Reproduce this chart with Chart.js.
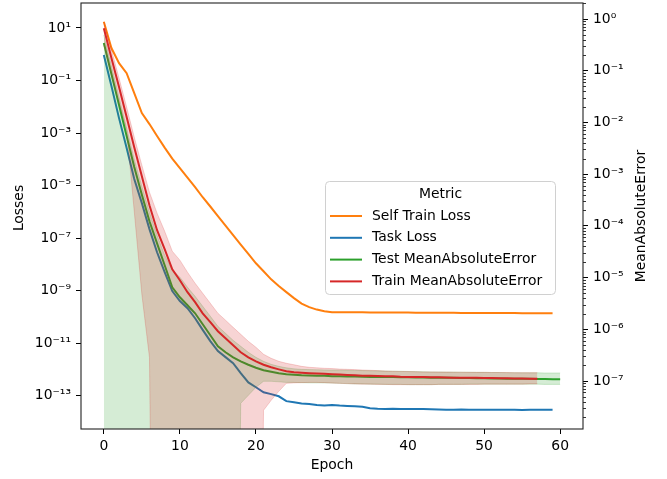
<!DOCTYPE html>
<html>
<head>
<meta charset="utf-8">
<script src="https://cdn.jsdelivr.net/npm/chart.js@4.4.1/dist/chart.umd.min.js"></script>
<style>
  body { margin: 0; background: #fff; }
</style>
</head>
<body>
<canvas id="chart" width="667" height="479" style="width:667px;height:479px"></canvas>
<script>
// series values, one entry per epoch (index = epoch)
var selfTrainLoss = [17.4, 1.73, 0.46, 0.19, 0.033, 5.8e-3, 2.2e-3, 7.7e-4, 2.8e-4, 1.07e-4,
    4.6e-5, 2.0e-5, 8.8e-6, 3.6e-6, 1.6e-6, 6.9e-7, 3.0e-7, 1.3e-7, 5.6e-8, 2.5e-8,
    1.1e-8, 5.5e-9, 2.7e-9, 1.5e-9, 8.8e-10, 5.2e-10, 3.2e-10, 2.35e-10, 1.9e-10, 1.65e-10,
    1.52e-10, 1.51e-10, 1.50e-10, 1.50e-10, 1.49e-10, 1.48e-10, 1.48e-10, 1.47e-10, 1.47e-10, 1.46e-10,
    1.46e-10, 1.45e-10, 1.45e-10, 1.44e-10, 1.44e-10, 1.43e-10, 1.43e-10, 1.42e-10, 1.42e-10, 1.41e-10,
    1.41e-10, 1.41e-10, 1.40e-10, 1.40e-10, 1.40e-10, 1.39e-10, 1.39e-10, 1.39e-10, 1.38e-10, 1.38e-10];

var taskLoss = [0.935, 0.0617, 3.7e-3, 2.7e-4, 1.78e-5, 2.15e-6, 2.2e-7, 2.9e-8, 5.1e-9, 9.6e-10,
    4.0e-10, 2.14e-10, 8.9e-11, 3.2e-11, 1.2e-11, 5.0e-12, 2.95e-12, 1.74e-12, 7.2e-13, 3.2e-13,
    2.1e-13, 1.35e-13, 1.15e-13, 9.5e-14, 6.2e-14, 5.6e-14, 5.1e-14, 4.8e-14, 4.4e-14, 4.2e-14,
    4.4e-14, 4.2e-14, 4.1e-14, 4.0e-14, 3.8e-14, 3.3e-14, 3.2e-14, 3.15e-14, 3.2e-14, 3.15e-14,
    3.15e-14, 3.1e-14, 3.1e-14, 3.05e-14, 3.0e-14, 2.95e-14, 2.9e-14, 3.0e-14, 2.9e-14, 2.95e-14,
    2.9e-14, 2.95e-14, 2.9e-14, 2.9e-14, 2.9e-14, 2.85e-14, 2.9e-14, 2.9e-14, 2.9e-14, 2.9e-14];

var testMAE = [0.344, 0.0863, 0.0217, 5.45e-3, 1.37e-3, 4.0e-4, 1.23e-4, 4.6e-5, 1.73e-5, 6.5e-6,
    4.16e-6, 2.92e-6, 2.04e-6, 1.25e-6, 7.66e-7, 4.69e-7, 3.59e-7, 2.87e-7, 2.40e-7, 2.06e-7,
    1.80e-7, 1.61e-7, 1.51e-7, 1.41e-7, 1.35e-7, 1.32e-7, 1.29e-7, 1.28e-7, 1.27e-7, 1.26e-7,
    1.24e-7, 1.23e-7, 1.22e-7, 1.22e-7, 1.21e-7, 1.20e-7, 1.20e-7, 1.19e-7, 1.19e-7, 1.18e-7,
    1.18e-7, 1.17e-7, 1.17e-7, 1.16e-7, 1.16e-7, 1.15e-7, 1.15e-7, 1.14e-7, 1.14e-7, 1.13e-7,
    1.13e-7, 1.12e-7, 1.12e-7, 1.11e-7, 1.11e-7, 1.10e-7, 1.10e-7, 1.09e-7, 1.09e-7, 1.08e-7, 1.08e-7];
var testMAEHigh = [0.490, 0.123, 0.0309, 7.77e-3, 1.95e-3, 5.86e-4, 1.84e-4, 6.60e-5, 2.71e-5, 1.39e-5,
    1.02e-5, 6.50e-6, 4.35e-6, 2.79e-6, 1.79e-6, 1.14e-6, 8.37e-7, 6.12e-7, 4.69e-7, 3.59e-7,
    2.87e-7, 2.40e-7, 2.10e-7, 1.92e-7, 1.80e-7, 1.72e-7, 1.68e-7, 1.66e-7, 1.65e-7, 1.64e-7,
    1.63e-7, 1.62e-7, 1.61e-7, 1.60e-7, 1.59e-7, 1.58e-7, 1.57e-7, 1.56e-7, 1.55e-7, 1.54e-7,
    1.53e-7, 1.52e-7, 1.51e-7, 1.50e-7, 1.50e-7, 1.49e-7, 1.49e-7, 1.48e-7, 1.48e-7, 1.47e-7,
    1.47e-7, 1.46e-7, 1.46e-7, 1.45e-7, 1.45e-7, 1.44e-7, 1.44e-7, 1.44e-7, 1.43e-7, 1.43e-7, 1.43e-7];
// lower edge falls below zero (off the log axis) for the early epochs
var testMAELow = [1e-20, 1e-20, 1e-20, 1e-20, 1e-20, 1e-20, 1e-20, 1e-20, 1e-20, 1e-20,
    1e-20, 1e-20, 1e-20, 1e-20, 1e-20, 1e-20, 1e-20, 1e-20, 3.70e-8, 5.28e-8,
    7.55e-8, 9.86e-8, 9.86e-8, 9.64e-8, 9.4e-8, 9.4e-8, 9.3e-8, 9.2e-8, 9.2e-8, 9.2e-8,
    9.1e-8, 9.0e-8, 8.9e-8, 8.8e-8, 8.8e-8, 8.7e-8, 8.7e-8, 8.6e-8, 8.6e-8, 8.6e-8,
    8.5e-8, 8.5e-8, 8.5e-8, 8.5e-8, 8.6e-8, 8.6e-8, 8.6e-8, 8.6e-8, 8.7e-8, 8.7e-8,
    8.7e-8, 8.7e-8, 8.7e-8, 8.7e-8, 8.7e-8, 8.7e-8, 8.7e-8, 8.7e-8, 8.6e-8, 8.6e-8, 8.6e-8];

var trainMAE = [0.66, 0.176, 0.0483, 0.0127, 3.33e-3, 9.1e-4, 2.51e-4, 8.24e-5, 3.54e-5, 1.45e-5,
    8.9e-6, 5.21e-6, 3.34e-6, 2.04e-6, 1.37e-6, 9.16e-7, 6.70e-7, 4.91e-7, 3.59e-7, 2.87e-7,
    2.40e-7, 2.06e-7, 1.84e-7, 1.68e-7, 1.54e-7, 1.47e-7, 1.44e-7, 1.41e-7, 1.39e-7, 1.38e-7,
    1.35e-7, 1.33e-7, 1.31e-7, 1.29e-7, 1.27e-7, 1.26e-7, 1.25e-7, 1.24e-7, 1.23e-7, 1.21e-7,
    1.20e-7, 1.19e-7, 1.19e-7, 1.18e-7, 1.18e-7, 1.17e-7, 1.16e-7, 1.16e-7, 1.15e-7, 1.15e-7,
    1.14e-7, 1.14e-7, 1.13e-7, 1.13e-7, 1.12e-7, 1.12e-7, 1.11e-7, 1.10e-7];
var trainMAEHigh = [0.875, 0.251, 0.0722, 0.0198, 5.2e-3, 1.49e-3, 4.48e-4, 1.76e-4, 7.88e-5, 3.24e-5,
    2.17e-5, 1.27e-5, 7.78e-6, 4.98e-6, 3.19e-6, 2.04e-6, 1.50e-6, 1.09e-6, 8.01e-7, 5.86e-7,
    4.49e-7, 3.29e-7, 2.75e-7, 2.40e-7, 2.20e-7, 2.06e-7, 1.92e-7, 1.84e-7, 1.80e-7, 1.76e-7,
    1.74e-7, 1.70e-7, 1.68e-7, 1.66e-7, 1.63e-7, 1.61e-7, 1.59e-7, 1.56e-7, 1.54e-7, 1.53e-7,
    1.52e-7, 1.51e-7, 1.50e-7, 1.50e-7, 1.49e-7, 1.49e-7, 1.48e-7, 1.48e-7, 1.47e-7, 1.47e-7,
    1.47e-7, 1.46e-7, 1.46e-7, 1.46e-7, 1.45e-7, 1.45e-7, 1.45e-7, 1.45e-7];
var trainMAELow = [0.314, 0.0824, 0.0237, 7.11e-3, 1.92e-4, 4.76e-6, 2.87e-7, 1e-20, 1e-20, 1e-20,
    1e-20, 1e-20, 1e-20, 1e-20, 1e-20, 1e-20, 1e-20, 1e-20, 1e-20, 1e-20,
    1e-20, 2.71e-8, 4.23e-8, 6.31e-8, 9.02e-8, 9.2e-8, 9.3e-8, 9.4e-8, 9.4e-8, 9.3e-8,
    9.1e-8, 9.0e-8, 8.9e-8, 8.8e-8, 8.7e-8, 8.7e-8, 8.6e-8, 8.6e-8, 8.5e-8, 8.5e-8,
    8.5e-8, 8.5e-8, 8.5e-8, 8.5e-8, 8.6e-8, 8.6e-8, 8.6e-8, 8.6e-8, 8.6e-8, 8.6e-8,
    8.7e-8, 8.7e-8, 8.7e-8, 8.7e-8, 8.7e-8, 8.7e-8, 8.8e-8, 8.8e-8];

var metricNames = ['Self Train Loss', 'Task Loss', 'Test MeanAbsoluteError', 'Train MeanAbsoluteError'];
var metricColors = ['#ff7f0e', '#1f77b4', '#2ca02c', '#d62728'];

// tick labels
var xTicks = [0, 10, 20, 30, 40, 50, 60];
var lossTicks = [1e1, 1e-1, 1e-3, 1e-5, 1e-7, 1e-9, 1e-11, 1e-13];
var maeTicks = [1e0, 1e-1, 1e-2, 1e-3, 1e-4, 1e-5, 1e-6, 1e-7];

var FONT = { family: 'DejaVu Sans', size: 13.9 };
var SUP = { '-': '\u207B', '0': '\u2070', '1': '\u00B9', '2': '\u00B2', '3': '\u00B3', '4': '\u2074',
    '5': '\u2075', '6': '\u2076', '7': '\u2077', '8': '\u2078', '9': '\u2079' };

function powLabel(v) {
    var e = Math.round(Math.log10(v));
    return '10' + String(e).split('').map(function (c) { return SUP[c]; }).join('');
}

function toPoints(arr) {
    return arr.map(function (v, i) { return { x: i, y: v }; });
}

function band(arr, color, fill, order) {
    return {
        data: toPoints(arr), yAxisID: 'y1', borderColor: color + '33', borderWidth: 1,
        backgroundColor: color + '33', fill: fill, order: order
    };
}

function noMargins(width) {
    return function (s) {
        if (width) s.width = width;
        s.paddingTop = 0;
        s.paddingBottom = 0;
    };
}

function rotatedText(ctx, text, x, y) {
    ctx.save();
    ctx.translate(x, y);
    ctx.rotate(-Math.PI / 2);
    ctx.textAlign = 'center';
    ctx.textBaseline = 'middle';
    ctx.fillText(text, 0, 0);
    ctx.restore();
}

// matplotlib-like frame, minor ticks, axis labels and legend
var decorations = {
    id: 'decorations',
    afterDraw: function (chart) {
        var ctx = chart.ctx, a = chart.chartArea, y1 = chart.scales.y1;
        ctx.save();
        ctx.strokeStyle = '#000';
        ctx.lineWidth = 0.8;
        for (var n = -9; n <= 0; n++) {
            for (var k = 2; k <= 9; k++) {
                var v = k * Math.pow(10, n);
                if (v < y1.min || v > y1.max) continue;
                var py = Math.round(y1.getPixelForValue(v)) + 0.5;
                ctx.beginPath();
                ctx.moveTo(a.right, py);
                ctx.lineTo(a.right + 3, py);
                ctx.stroke();
            }
        }
        ctx.strokeStyle = '#222';
        ctx.lineWidth = 1.1;
        ctx.strokeRect(a.left, a.top, a.right - a.left, a.bottom - a.top);

        ctx.fillStyle = '#000';
        ctx.font = FONT.size + 'px "' + FONT.family + '"';
        rotatedText(ctx, 'Losses', 19, 208);
        rotatedText(ctx, 'MeanAbsoluteError', 641, (a.top + a.bottom) / 2);

        // legend box
        var bx = 325.5, by = 181.5, bw = 230, bh = 113, r = 4;
        ctx.beginPath();
        ctx.moveTo(bx + r, by);
        ctx.arcTo(bx + bw, by, bx + bw, by + bh, r);
        ctx.arcTo(bx + bw, by + bh, bx, by + bh, r);
        ctx.arcTo(bx, by + bh, bx, by, r);
        ctx.arcTo(bx, by, bx + bw, by, r);
        ctx.closePath();
        ctx.fillStyle = 'rgba(255,255,255,0.8)';
        ctx.fill();
        ctx.strokeStyle = '#d0d0d0';
        ctx.lineWidth = 1;
        ctx.stroke();

        ctx.fillStyle = '#000';
        ctx.textAlign = 'center';
        ctx.textBaseline = 'middle';
        ctx.fillText('Metric', bx + bw / 2, 194);
        ctx.textAlign = 'left';
        for (var i = 0; i < metricNames.length; i++) {
            var ly = 216 + i * 21.8;
            ctx.strokeStyle = metricColors[i];
            ctx.lineWidth = 2;
            ctx.beginPath();
            ctx.moveTo(330, ly);
            ctx.lineTo(362, ly);
            ctx.stroke();
            ctx.fillText(metricNames[i], 372, ly);
        }
        ctx.restore();
    }
};

var tickGrid = { drawOnChartArea: false, drawTicks: true, tickLength: 5, tickColor: '#000', tickWidth: 1 };

new Chart(document.getElementById('chart'), {
    type: 'line',
    data: {
        datasets: [
            { label: metricNames[0], data: toPoints(selfTrainLoss), yAxisID: 'y', borderColor: metricColors[0], order: 7 },
            { label: metricNames[1], data: toPoints(taskLoss), yAxisID: 'y', borderColor: metricColors[1], order: 6 },
            band(testMAEHigh, metricColors[2], false, 5),
            band(testMAELow, metricColors[2], 2, 5),
            { label: metricNames[2], data: toPoints(testMAE), yAxisID: 'y1', borderColor: metricColors[2], order: 4 },
            band(trainMAEHigh, metricColors[3], false, 3),
            band(trainMAELow, metricColors[3], 5, 3),
            { label: metricNames[3], data: toPoints(trainMAE), yAxisID: 'y1', borderColor: metricColors[3], order: 2 }
        ]
    },
    options: {
        responsive: false,
        animation: false,
        devicePixelRatio: 1,
        layout: { padding: { top: 3, left: 0, right: 0, bottom: 0 } },
        elements: { point: { radius: 0 }, line: { tension: 0, borderWidth: 2 } },
        plugins: { legend: { display: false }, tooltip: { enabled: false } },
        scales: {
            x: {
                type: 'linear', min: -3, max: 63,
                afterBuildTicks: function (s) { s.ticks = xTicks.map(function (v) { return { value: v }; }); },
                afterFit: function (s) { s.height = 50; s.paddingLeft = 0; s.paddingRight = 0; },
                grid: tickGrid,
                border: { display: false },
                ticks: { font: FONT, color: '#000', padding: 4, maxRotation: 0 },
                title: { display: true, text: 'Epoch', font: FONT, color: '#000', padding: { top: 0, bottom: 5 } }
            },
            y: {
                type: 'logarithmic', position: 'left', min: 5.4e-15, max: 89.5,
                afterBuildTicks: function (s) { s.ticks = lossTicks.map(function (v) { return { value: v }; }); },
                afterFit: noMargins(81),
                grid: tickGrid,
                border: { display: false },
                ticks: { font: FONT, color: '#000', padding: 5, autoSkip: false, callback: powLabel }
            },
            y1: {
                type: 'logarithmic', position: 'right', min: 1.18e-8, max: 2.04,
                afterBuildTicks: function (s) { s.ticks = maeTicks.map(function (v) { return { value: v }; }); },
                afterFit: noMargins(84),
                grid: tickGrid,
                border: { display: false },
                ticks: { font: FONT, color: '#000', padding: 5, autoSkip: false, callback: powLabel }
            }
        }
    },
    plugins: [decorations]
});
</script>
</body>
</html>
